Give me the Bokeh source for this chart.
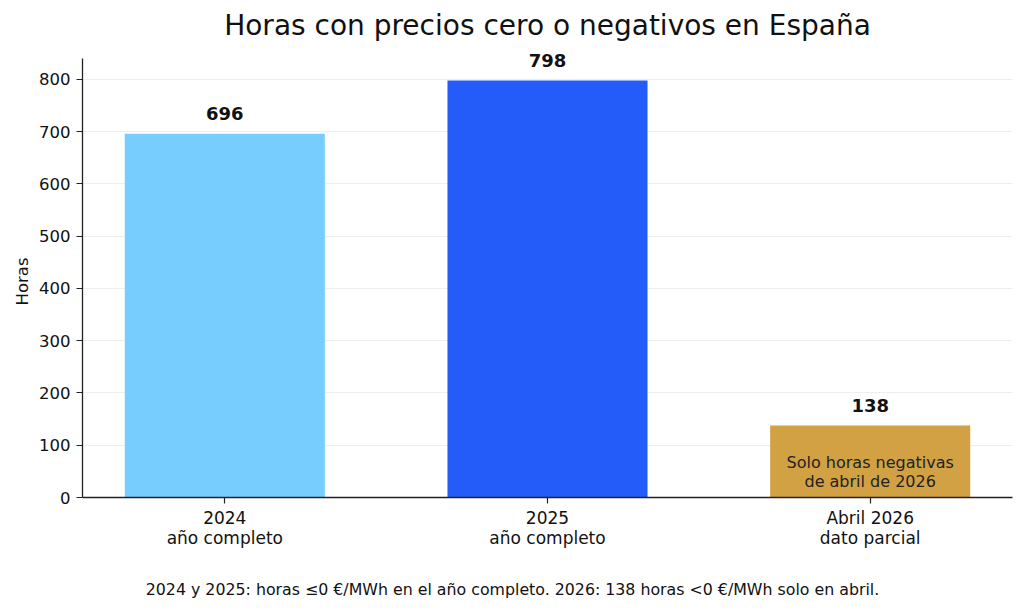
from bokeh.plotting import figure
from bokeh.models import ColumnDataSource, Range1d, FixedTicker, LabelSet, Title
from bokeh.layouts import column
from bokeh.core.properties import value
from bokeh.embed import file_html
from bokeh.resources import INLINE

# ---- data ----
categories = ["2024\naño completo", "2025\naño completo", "Abril 2026\ndato parcial"]
hours = [696, 798, 138]
bar_colors = ["#77CDFD", "#245CFA", "#D2A144"]
value_labels = [str(h) for h in hours]
y_ticks = [0, 100, 200, 300, 400, 500, 600, 700, 800]
y_axis_limit = 840
title_text = "Horas con precios cero o negativos en España"
y_label = "Horas"
bar_note = "Solo horas negativas\nde abril de 2026"
footnote = "2024 y 2025: horas ≤0 €/MWh en el año completo. 2026: 138 horas <0 €/MWh solo en abril."

FONT = "DejaVu Sans"
xs = list(range(len(categories)))
bar_w = 0.62
W = 1016
frame_left, frame_right = 82, W - 4

src = ColumnDataSource(dict(x=xs, top=hours, color=bar_colors, label=value_labels))

# frame extends a little above the axis limit so the top value label is not clipped
frame_top, frame_bottom, axis_top_px = 47, 497, 58
y_end = y_axis_limit * (frame_bottom - frame_top) / (frame_bottom - axis_top_px)
main_h = 560

p = figure(width=W, height=main_h, output_backend="svg", toolbar_location=None,
           x_range=Range1d(-0.441, 2.441), y_range=Range1d(0, y_end),
           min_border_left=frame_left, min_border_right=W - frame_right, min_border_top=frame_top,
           min_border_bottom=main_h - frame_bottom)

p.title.text = title_text
p.title.align = "center"
p.title.text_font = FONT
p.title.text_font_size = "28px"
p.title.text_font_style = "normal"
p.title.text_color = "#111111"
p.title.standoff = 12

p.outline_line_color = None
p.background_fill_color = "white"
p.xgrid.grid_line_color = None
p.ygrid.grid_line_color = "#EEEEEE"
p.ygrid.grid_line_width = 1

p.vbar(x="x", top="top", width=bar_w, bottom=0, color="color", line_color=None, source=src)

p.add_layout(LabelSet(x="x", y="top", text="label", source=src, text_align="center",
                      text_baseline="middle", y_offset=20, text_font=value(FONT),
                      text_font_size=value("18px"), text_font_style=value("bold"),
                      text_color=value("#111111")))

note_src = ColumnDataSource(dict(x=[xs[2]], y=[hours[2] * 0.35], t=[bar_note]))
p.text(x="x", y="y", text="t", source=note_src, text_align="center", text_baseline="middle",
       text_font=value(FONT), text_font_size="16px", text_color="#222222", text_line_height=1.0)

# axes
p.xaxis.ticker = FixedTicker(ticks=xs)
p.xaxis.major_label_overrides = {i: c for i, c in zip(xs, categories)}
p.yaxis.ticker = FixedTicker(ticks=y_ticks)
p.yaxis.bounds = (0, y_axis_limit)
for ax in (p.xaxis[0], p.yaxis[0]):
    ax.axis_line_color = "#222222"
    ax.axis_line_width = 1.3
    ax.major_tick_line_color = "#222222"
    ax.major_tick_line_width = 1.2
    ax.major_tick_out = 6
    ax.major_tick_in = 0
    ax.minor_tick_line_color = None
    ax.major_label_text_font = FONT
    ax.major_label_text_font_size = "16.5px"
    ax.major_label_text_color = "#111111"
p.xaxis.major_label_text_font_size = "17px"
p.xaxis.major_label_text_line_height = 1.0
p.xaxis.major_label_standoff = 4
p.yaxis.major_label_standoff = 6

# y-axis title, centred on the visible axis span (0..840)
p.add_layout(Title(text=y_label, align="left", offset=192, standoff=9,
                   text_font=FONT, text_font_size="16.5px", text_font_style="normal",
                   text_color="#111111"), "left")

# footnote strip below the chart (its frame is aligned with the main frame by the layout)
foot_h = 602 - main_h
foot = figure(width=W, height=foot_h, output_backend="svg", toolbar_location=None,
              x_range=Range1d(frame_left, frame_right), y_range=Range1d(0, foot_h),
              x_axis_location=None, y_axis_location=None,
              min_border_left=frame_left, min_border_right=W - frame_right,
              min_border_top=0, min_border_bottom=0, outline_line_color=None)
foot.grid.visible = False
foot.text(x=[512], y=[602 - 589], text=[footnote], text_align="center", text_baseline="middle",
          text_font=value(FONT), text_font_size="15.8px", text_color="#111111")

layout = column(p, foot, spacing=0)
open("out.html", "w").write(file_html(layout, INLINE))
